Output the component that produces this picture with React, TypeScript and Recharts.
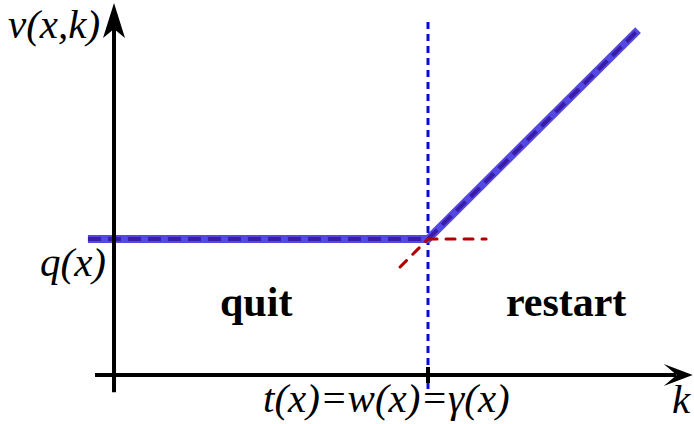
import React from 'react'
import {
  ComposedChart,
  Line,
  XAxis,
  YAxis,
  ReferenceLine,
  ReferenceDot,
} from 'recharts'

document.body.style.margin = '0'

// value of stopping: max(q, restart line), plus the two extended pieces
const envelopeK = [-0.83, 10, 16.69]
const envelopeV = [5, 5, 12.68]
const quitExtK = [10, 11.85]
const quitExtV = [5, 5]
const restartExtK = [9.11, 10]
const restartExtV = [3.97, 5]
const threshold = 10

const toRows = (ks: number[], vs: number[]) => ks.map((k, i) => ({ k, v: vs[i] }))

const envelope = toRows(envelopeK, envelopeV)
const quitExt = toRows(quitExtK, quitExtV)
const restartExt = toRows(restartExtK, restartExtV)

const W = 694
const H = 424
const X_DOMAIN: [number, number] = [-3.631, 18.471]
const Y_DOMAIN: [number, number] = [-1.801, 13.787]

const SERIF = '"Liberation Serif", "Times New Roman", serif'

// text placed at data anchors (left edge, baseline)
const labels = [
  { k: -3.376, v: 12.39, text: 'v(x,k)', bold: false },
  { k: -2.357, v: 3.64, text: 'q(x)', bold: false },
  { k: 3.376, v: 2.169, text: 'quit', bold: true },
  { k: 12.48, v: 2.169, text: 'restart', bold: true },
  { k: 4.745, v: -1.36, text: 't(x)=w(x)=γ(x)', bold: false },
  { k: 17.77, v: -1.397, text: 'k', bold: false },
]

const upArrow = (p: any) => {
  const { cx, cy } = p
  return (
    <polygon
      points={`${cx},${cy} ${cx + 11},${cy + 35} ${cx},${cy + 26} ${cx - 11},${cy + 35}`}
      fill="#000"
    />
  )
}

const rightArrow = (p: any) => {
  const { cx, cy } = p
  return (
    <polygon
      points={`${cx},${cy} ${cx - 29},${cy - 11} ${cx - 16},${cy} ${cx - 29},${cy + 11}`}
      fill="#000"
    />
  )
}

const textShape = (text: string, bold: boolean) => (p: any) => (
  <text
    x={p.cx}
    y={p.cy}
    fontFamily={SERIF}
    fontSize={bold ? 42 : 41}
    fontWeight={bold ? 'bold' : 'normal'}
    fontStyle={bold ? 'normal' : 'italic'}
    fill="#000"
  >
    {text}
  </text>
)

export default function App() {
  return (
    <ComposedChart width={W} height={H} margin={{ top: 0, right: 0, bottom: 0, left: 0 }}>
      <XAxis dataKey="k" type="number" domain={X_DOMAIN} allowDataOverflow hide />
      <YAxis dataKey="v" type="number" domain={Y_DOMAIN} allowDataOverflow hide />

      <ReferenceLine
        segment={[{ x: threshold, y: 12.98 }, { x: threshold, y: -0.55 }]}
        stroke="#0a0ad8"
        strokeWidth={3}
        strokeDasharray="7 5"
      />

      <Line
        data={envelope}
        dataKey="v"
        type="linear"
        stroke="#5448e2"
        strokeWidth={8}
        dot={false}
        activeDot={false}
        isAnimationActive={false}
      />
      <Line
        data={envelope}
        dataKey="v"
        type="linear"
        stroke="#3a1ca8"
        strokeWidth={4}
        strokeDasharray="13 7"
        dot={false}
        activeDot={false}
        isAnimationActive={false}
      />
      <Line
        data={quitExt}
        dataKey="v"
        type="linear"
        stroke="#b00000"
        strokeWidth={3}
        strokeDasharray="9 9"
        strokeLinecap="round"
        dot={false}
        activeDot={false}
        isAnimationActive={false}
      />
      <Line
        data={restartExt}
        dataKey="v"
        type="linear"
        stroke="#b00000"
        strokeWidth={3}
        strokeDasharray="9 9"
        strokeLinecap="round"
        dot={false}
        activeDot={false}
        isAnimationActive={false}
      />

      {/* axes */}
      <ReferenceLine
        segment={[{ x: 0, y: -0.63 }, { x: 0, y: 13.0 }]}
        stroke="#000"
        strokeWidth={4}
        isFront
      />
      <ReferenceLine
        segment={[{ x: -0.605, y: 0 }, { x: 17.9, y: 0 }]}
        stroke="#000"
        strokeWidth={4}
        isFront
      />
      <ReferenceLine
        segment={[{ x: threshold, y: 0.294 }, { x: threshold, y: -0.294 }]}
        stroke="#000"
        strokeWidth={4}
        isFront
      />
      <ReferenceDot x={0} y={13.68} r={0} shape={upArrow} isFront />
      <ReferenceDot x={18.43} y={0} r={0} shape={rightArrow} isFront />

      {labels.map((l) => (
        <ReferenceDot
          key={l.text}
          x={l.k}
          y={l.v}
          r={0}
          shape={textShape(l.text, l.bold)}
          isFront
        />
      ))}
    </ComposedChart>
  )
}
